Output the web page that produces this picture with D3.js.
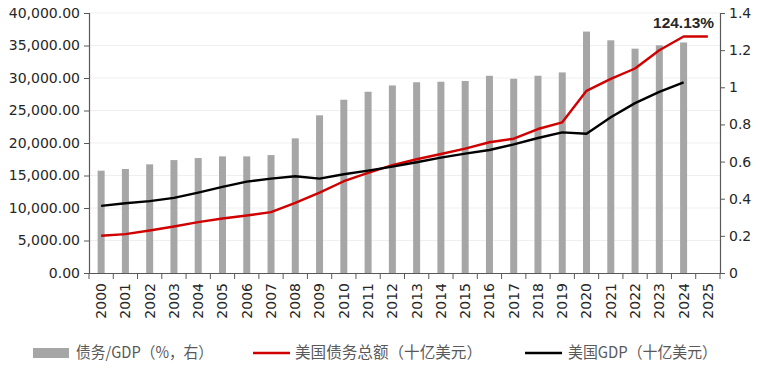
<!DOCTYPE html>
<html>
<head>
<meta charset="utf-8">
<script src="https://cdn.jsdelivr.net/npm/d3@7"></script>
<style>
html,body{margin:0;padding:0;background:#fff;}
svg{display:block;}
</style>
</head>
<body>
<svg id="chart" width="760" height="368"></svg>
<script>
const years = ["2000","2001","2002","2003","2004","2005","2006","2007","2008","2009","2010","2011","2012","2013","2014","2015","2016","2017","2018","2019","2020","2021","2022","2023","2024","2025"];
const debtRatio = [0.551,0.560,0.585,0.608,0.619,0.628,0.628,0.635,0.725,0.849,0.933,0.976,1.010,1.027,1.030,1.034,1.062,1.046,1.062,1.080,1.300,1.253,1.208,1.226,1.2413,null];
const debtTotal = [5725,5985,6540,7150,7830,8380,8850,9360,10790,12370,14120,15400,16580,17500,18310,19130,20110,20660,22150,23180,28030,29870,31460,34280,36380,36380];
const gdp = [10330,10740,11050,11560,12370,13250,14060,14520,14890,14520,15200,15750,16360,17040,17740,18360,18920,19800,20770,21640,21430,23950,26140,27870,29310,null];
const leftTicks = [0,5000,10000,15000,20000,25000,30000,35000,40000];
const leftTickLabels = ["0.00","5,000.00","10,000.00","15,000.00","20,000.00","25,000.00","30,000.00","35,000.00","40,000.00"];
const rightTicks = [0,0.2,0.4,0.6,0.8,1,1.2,1.4];
const rightTickLabels = ["0","0.2","0.4","0.6","0.8","1","1.2","1.4"];
const legendLabels = ["债务/GDP（%，右）","美国债务总额（十亿美元）","美国GDP（十亿美元）"];
const annotation = "124.13%";

const svg = d3.select("#chart");
const L = 89, R = 720, T = 13, B = 273;
const axisColor = "#595959";
const numFont = "'DejaVu Sans', Arial, sans-serif";
const cjkFont = "'Noto Sans CJK SC', 'Noto Sans', sans-serif";

const x = d3.scaleBand().domain(years).range([L, R]).padding(0);
const yL = d3.scaleLinear().domain([0, 40000]).range([B, T]);
const yR = d3.scaleLinear().domain([0, 1.4]).range([B, T]);

// gridlines
svg.append("g").selectAll("line").data(leftTicks.slice(1)).join("line")
  .attr("x1", L).attr("x2", R)
  .attr("y1", d => yL(d)).attr("y2", d => yL(d))
  .attr("stroke", "#efefef").attr("stroke-width", 1);

// bars
const bw = 7;
svg.append("g").selectAll("rect").data(years.map((y,i)=>({y, v: debtRatio[i]})).filter(d=>d.v!=null)).join("rect")
  .attr("x", d => x(d.y) + x.bandwidth()/2 - bw/2)
  .attr("width", bw)
  .attr("y", d => yR(d.v))
  .attr("height", d => yR(0) - yR(d.v))
  .attr("fill", "#a6a6a6");

// lines
const lineGen = d3.line()
  .defined(d => d.v != null)
  .x(d => x(d.y) + x.bandwidth()/2)
  .y(d => yL(d.v));

svg.append("path")
  .datum(years.map((y,i)=>({y, v: debtTotal[i]})))
  .attr("d", lineGen).attr("fill","none")
  .attr("stroke", "#d00000").attr("stroke-width", 2.4).attr("stroke-linejoin","round");

svg.append("path")
  .datum(years.map((y,i)=>({y, v: gdp[i]})))
  .attr("d", lineGen).attr("fill","none")
  .attr("stroke", "#000").attr("stroke-width", 2.4).attr("stroke-linejoin","round");

// left axis
const gL = svg.append("g").attr("transform", `translate(${L},0)`)
  .call(d3.axisLeft(yL).tickValues(leftTicks).tickFormat((d,i)=>leftTickLabels[i]).tickSizeOuter(0).tickSize(5).tickPadding(4));
// right axis
const gR = svg.append("g").attr("transform", `translate(${R},0)`)
  .call(d3.axisRight(yR).tickValues(rightTicks).tickFormat((d,i)=>rightTickLabels[i]).tickSizeOuter(0).tickSize(5).tickPadding(4));
// bottom axis
const gB = svg.append("g").attr("transform", `translate(0,${B})`)
  .call(d3.axisBottom(x).tickSize(0).tickSizeOuter(0).tickPadding(0));
// band boundary ticks
gB.selectAll(".bt").data(years.map(y=>x(y)).concat([R])).join("line")
  .attr("class","bt").attr("x1", d=>d).attr("x2", d=>d).attr("y1",0).attr("y2",6)
  .attr("stroke", axisColor);

[gL, gR, gB].forEach(g => {
  g.selectAll(".domain").attr("stroke", axisColor).attr("stroke-width", 1.2);
  g.selectAll(".tick line").attr("stroke", axisColor);
  g.selectAll("text").attr("fill", "#262626").style("font-family", numFont).style("font-size", "14px");
});
gB.selectAll(".tick text")
  .attr("transform", "rotate(-90)")
  .attr("text-anchor", "end")
  .attr("x", -10).attr("y", 0).attr("dy", "0.35em");

// annotation
svg.append("text")
  .attr("x", x("2024") + x.bandwidth()/2)
  .attr("y", 28)
  .attr("text-anchor","middle")
  .style("font-family", "'Liberation Sans', Arial, sans-serif")
  .style("font-weight","bold").style("font-size","15px")
  .attr("textLength", 61).attr("lengthAdjust","spacingAndGlyphs")
  .attr("fill","#262626")
  .text(annotation);

// legend
const lg = svg.append("g");
lg.append("rect").attr("x", 33).attr("y", 348).attr("width", 36).attr("height", 10).attr("fill", "#a6a6a6");
lg.append("text").attr("x", 76).attr("y", 358).attr("textLength", 137).text(legendLabels[0]);
lg.append("line").attr("x1", 253).attr("x2", 290).attr("y1", 353).attr("y2", 353).attr("stroke","#d00000").attr("stroke-width",2.4);
lg.append("text").attr("x", 295).attr("y", 358).attr("textLength", 187).text(legendLabels[1]);
lg.append("line").attr("x1", 525).attr("x2", 562).attr("y1", 353).attr("y2", 353).attr("stroke","#000").attr("stroke-width",2.4);
lg.append("text").attr("x", 568).attr("y", 358).attr("textLength", 149).text(legendLabels[2]);
lg.selectAll("text").style("font-family", cjkFont).style("font-size","15.5px")
  .attr("lengthAdjust","spacingAndGlyphs").attr("fill","#595959");
</script>
</body>
</html>
